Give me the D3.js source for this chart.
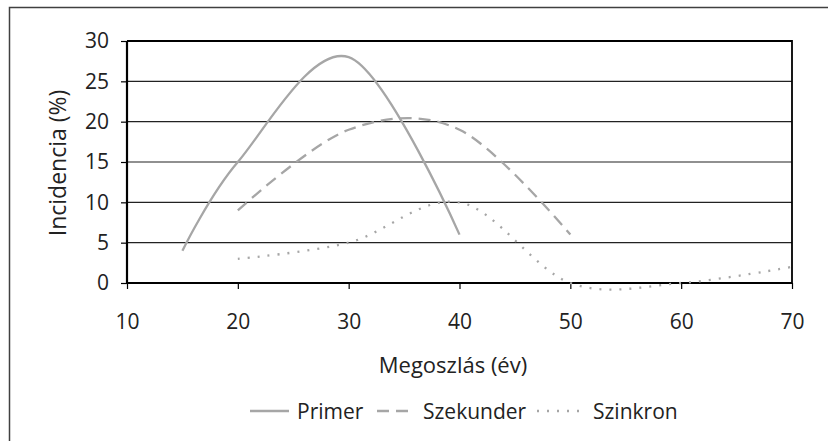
<!DOCTYPE html>
<html>
<head>
<meta charset="utf-8">
<script src="https://cdn.jsdelivr.net/npm/d3@7"></script>
<style>
  body { margin: 0; background: #fff; }
  svg { display: block; font-family: "Open Sans", sans-serif; }
</style>
</head>
<body>
<div id="chart"></div>
<script>
// data
var primerX    = [15, 20, 30, 40],
    primerY    = [4, 15, 28, 6],
    szekunderX = [20, 30, 40, 50],
    szekunderY = [9, 19, 19, 6],
    szinkronX  = [20, 30, 40, 50, 60, 70],
    szinkronY  = [3, 5, 10, 0, 0, 2],
    xTicks     = [10, 20, 30, 40, 50, 60, 70],
    yTicks     = [0, 5, 10, 15, 20, 25, 30];

var series = [
  { name: 'Primer',    xs: primerX,    ys: primerY,    dash: null },
  { name: 'Szekunder', xs: szekunderX, ys: szekunderY, dash: '12,7' },
  { name: 'Szinkron',  xs: szinkronX,  ys: szinkronY,  dash: '2,8' }
];

var W = 828, H = 441,
    plot = { left: 127, right: 792, top: 41, bottom: 283 },
    grey = '#a6a6a6',
    ink = '#222';

var svg = d3.select('#chart')
            .append('svg')
            .attr('width', W)
            .attr('height', H);

// outer chart border (cut off at right and bottom)
svg.append('rect')
   .attr('x', 9.5).attr('y', 7.5)
   .attr('width', W).attr('height', H)
   .attr('fill', 'none')
   .attr('stroke', '#404040')
   .attr('stroke-width', 1.5);

var x = d3.scaleLinear().domain([10, 70]).range([plot.left, plot.right]),
    y = d3.scaleLinear().domain([0, 30]).range([plot.bottom, plot.top]);

// gridlines
svg.append('g')
   .selectAll('line')
   .data(yTicks.slice(1, -1))
   .enter()
     .append('line')
     .attr('x1', plot.left).attr('x2', plot.right)
     .attr('y1', function(d) { return y(d); })
     .attr('y2', function(d) { return y(d); })
     .attr('stroke', '#222')
     .attr('stroke-width', 1.2);

// plot area border top / right
svg.append('path')
   .attr('d', 'M' + plot.left + ',' + y(30) + 'H' + plot.right + 'V' + plot.bottom)
   .attr('fill', 'none')
   .attr('stroke', '#000')
   .attr('stroke-width', 1.8);

var xAxis = svg.append('g')
   .attr('transform', 'translate(0,' + plot.bottom + ')')
   .call(d3.axisBottom(x).tickValues(xTicks).tickSize(6).tickPadding(25));

var yAxis = svg.append('g')
   .attr('transform', 'translate(' + plot.left + ',0)')
   .call(d3.axisLeft(y).tickValues(yTicks).tickSize(6).tickPadding(12));

[xAxis, yAxis].forEach(function(a) {
  a.select('.domain').attr('stroke', '#000').attr('stroke-width', 2.2);
  a.selectAll('.tick line').attr('stroke', '#000').attr('stroke-width', 1.2);
  a.selectAll('.tick text')
   .attr('fill', ink)
   .style('font-family', '"Open Sans", sans-serif')
   .style('font-size', '21px');
});
xAxis.select('.domain').attr('d', 'M' + plot.left + ',0H' + plot.right);
yAxis.select('.domain').attr('d', 'M0,' + plot.top + 'V' + plot.bottom);

// series lines, smoothed like the original
var line = d3.line()
             .x(function(d) { return x(d[0]); })
             .y(function(d) { return y(d[1]); })
             .curve(d3.curveCardinal.tension(0));

svg.append('g')
   .selectAll('path')
   .data(series)
   .enter()
     .append('path')
     .attr('d', function(s) { return line(s.xs.map(function(v, i) { return [v, s.ys[i]]; })); })
     .attr('fill', 'none')
     .attr('stroke', grey)
     .attr('stroke-width', 2.3)
     .attr('stroke-dasharray', function(s) { return s.dash; });

// axis titles
svg.append('text')
   .attr('x', 453)
   .attr('y', 373)
   .attr('text-anchor', 'middle')
   .attr('fill', ink)
   .style('font-size', '22px')
   .text('Megoszlás (év)');

svg.append('text')
   .attr('transform', 'translate(66,163) rotate(-90)')
   .attr('text-anchor', 'middle')
   .attr('fill', ink)
   .style('font-size', '23px')
   .text('Incidencia (%)');

// legend
var legend = [
  { name: 'Primer',    x: 250, len: 39, tx: 297, dash: null },
  { name: 'Szekunder', x: 377, len: 32, tx: 423, dash: '12,7' },
  { name: 'Szinkron',  x: 537, len: 44, tx: 593, dash: '2,8' }
];

var lg = svg.append('g')
            .selectAll('.leg')
            .data(legend)
            .enter()
              .append('g')
              .attr('class', 'leg');

lg.append('line')
  .attr('x1', function(d) { return d.x; })
  .attr('x2', function(d) { return d.x + d.len; })
  .attr('y1', 411).attr('y2', 411)
  .attr('stroke', grey)
  .attr('stroke-width', 2.3)
  .attr('stroke-dasharray', function(d) { return d.dash; });

lg.append('text')
  .attr('x', function(d) { return d.tx; })
  .attr('y', 419)
  .attr('fill', ink)
  .style('font-size', '21px')
  .text(function(d) { return d.name; });
</script>
</body>
</html>
